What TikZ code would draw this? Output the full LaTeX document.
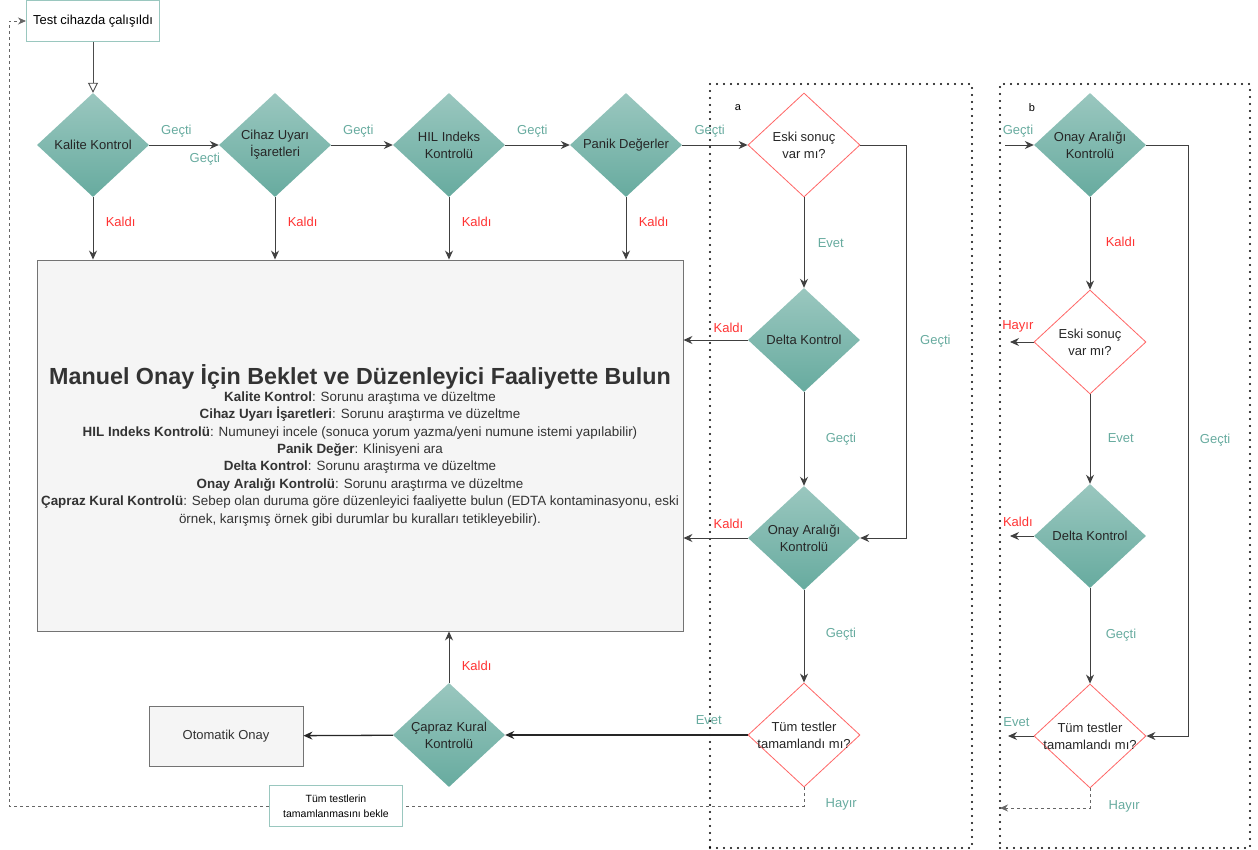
\documentclass[tikz,border=0pt]{standalone}
\usepackage{fontspec}
\setmainfont{Liberation Sans}
\usetikzlibrary{arrows.meta,shapes.geometric}
\definecolor{passgreen}{HTML}{67AB9F}
\definecolor{passlight}{HTML}{9AC7BF}
\definecolor{failred}{HTML}{FF3333}
\definecolor{askred}{HTML}{FF6666}
\definecolor{boxgray}{HTML}{F5F5F5}
\definecolor{txtgray}{HTML}{333333}
\begin{document}
\begin{tikzpicture}[x=1pt,y=-1pt]
		\tikzstyle{check}=[diamond,inner sep=0pt,minimum width=112pt,minimum height=104pt,top color=passlight,bottom color=passgreen,draw=none]
		\tikzstyle{ask}=[diamond,inner sep=0pt,minimum width=112pt,minimum height=104pt,draw=askred,line width=0.8pt,fill=white]
		\tikzstyle{inside}=[align=center,font=\fontsize{13}{17}\selectfont,text=black!85]
		\tikzstyle{edge}=[draw,line width=0.9pt,black!75,-{Stealth[length=9pt,width=8pt]}]
		\tikzstyle{wait}=[draw,line width=0.8pt,black!60,dash pattern=on 3pt off 3pt]
		\tikzstyle{frame}=[draw,line width=2.4pt,dash pattern=on 0pt off 7pt,line cap=round,minimum height=764pt]
		\tikzstyle{pass}=[text=passgreen,font=\fontsize{13}{15}\selectfont]
		\tikzstyle{fail}=[text=failred,font=\fontsize{13}{15}\selectfont]
		\tikzstyle{note}=[draw=passlight,fill=white,line width=1pt,align=center]
		\useasboundingbox (0,0) rectangle (1258,850);
		\begin{scope}
			\node [frame,minimum width=262pt] (fa) at (841,466) {};
			\node [frame,minimum width=250pt] (fb) at (1125,466) {};
			\node [font=\fontsize{11}{13}\selectfont] (na) at (738,108) {a};
			\node [font=\fontsize{11}{13}\selectfont] (nb) at (1032,108) {b};
			\node [note,minimum width=133pt,minimum height=41pt,font=\fontsize{13}{15}\selectfont] (tc) at (93,21) {Test cihazda çalışıldı};
			\node [check,label={[inside]center:Kalite Kontrol}] (kk) at (93,145) {};
			\node [check,label={[inside]center:Cihaz Uyarı\\İşaretleri}] (cu) at (275,145) {};
			\node [check,label={[inside]center:HIL Indeks\\Kontrolü}] (hil) at (449,145) {};
			\node [check,label={[inside]center:Panik Değerler}] (pd) at (626,145) {};
			\node [ask,label={[inside]center:Eski sonuç\\var mı?}] (es-a) at (804,145) {};
			\node [check,label={[inside]center:Delta Kontrol}] (dk-a) at (804,340) {};
			\node [check,label={[inside]center:Onay Aralığı\\Kontrolü}] (oa-a) at (804,538) {};
			\node [ask,label={[inside]center:Tüm testler\\tamamlandı mı?}] (ta-a) at (804,735) {};
			\node [check,label={[inside]center:Çapraz Kural\\Kontrolü}] (ck) at (449,735) {};
			\node [draw=black!55,fill=boxgray,line width=0.9pt,minimum width=154pt,minimum height=60pt,font=\fontsize{13}{15}\selectfont,text=txtgray] (oo) at (226,736) {Otomatik Onay};
			\node [draw=black!55,fill=boxgray,line width=0.9pt,minimum width=646pt,minimum height=371pt,align=center,text=txtgray,font=\fontsize{13.4}{17.4}\selectfont] (mb) at (360,445.5) {{\fontsize{23.3}{26}\selectfont\bfseries Manuel Onay İçin Beklet ve Düzenleyici Faaliyette Bulun}\\[-1pt]
				\textbf{Kalite Kontrol}: Sorunu araştıma ve düzeltme\\
				\textbf{Cihaz Uyarı İşaretleri}: Sorunu araştırma ve düzeltme\\
				\textbf{HIL Indeks Kontrolü}: Numuneyi incele (sonuca yorum yazma/yeni numune istemi yapılabilir)\\
				\textbf{Panik Değer}: Klinisyeni ara\\
				\textbf{Delta Kontrol}: Sorunu araştırma ve düzeltme\\
				\textbf{Onay Aralığı Kontrolü}: Sorunu araştırma ve düzeltme\\
				\textbf{Çapraz Kural Kontrolü}: Sebep olan duruma göre düzenleyici faaliyette bulun (EDTA kontaminasyonu, eski\\
				örnek, karışmış örnek gibi durumlar bu kuralları tetikleyebilir).};
			\node [note,minimum width=133pt,minimum height=41pt,font=\fontsize{10.5}{15}\selectfont] (bk) at (336,806) {Tüm testlerin\\tamamlanmasını bekle};
			\node [check,label={[inside]center:Onay Aralığı\\Kontrolü}] (oa-b) at (1090,145) {};
			\node [ask,label={[inside]center:Eski sonuç\\var mı?}] (es-b) at (1090,342) {};
			\node [check,label={[inside]center:Delta Kontrol}] (dk-b) at (1090,536) {};
			\node [ask,label={[inside]center:Tüm testler\\tamamlandı mı?}] (ta-b) at (1090,736) {};
			\coordinate (lp) at (9,806);
			\coordinate (ib) at (1005,145);
			\coordinate (hb) at (1010,342);
			\coordinate (kb) at (1010,536);
			\coordinate (eb) at (1008,736);
			\coordinate (wb) at (1000,808);
			\path[draw,line width=0.9pt,black!70,-{Triangle[open,length=10pt,width=10pt]}] (tc) -- (kk);
			\path[edge] (kk) -- node[pass,pos=0.39,above=4pt] {Geçti} node[pass,pos=0.8,below=4pt] {Geçti} (cu);
			\path[edge] (cu) -- node[pass,pos=0.44,above=4pt] {Geçti} (hil);
			\path[edge] (hil) -- node[pass,pos=0.42,above=4pt] {Geçti} (pd);
			\path[edge] (pd) -- node[pass,pos=0.42,above=4pt] {Geçti} (es-a);
			\path[edge] (kk) -- node[fail,pos=0.4,right=9pt] {Kaldı} (kk |- mb.north);
			\path[edge] (cu) -- node[fail,pos=0.4,right=9pt] {Kaldı} (cu |- mb.north);
			\path[edge] (hil) -- node[fail,pos=0.4,right=9pt] {Kaldı} (hil |- mb.north);
			\path[edge] (pd) -- node[fail,pos=0.4,right=9pt] {Kaldı} (pd |- mb.north);
			\path[edge] (es-a) -- node[pass,pos=0.5,right=10pt] {Evet} (dk-a);
			\path[edge] (dk-a) -- node[pass,pos=0.5,right=18pt] {Geçti} (oa-a);
			\path[edge] (oa-a) -- node[pass,pos=0.48,right=18pt] {Geçti} (ta-a);
			\path[edge] (es-a.east) -- ++(46,0) |- node[pass,pos=0.25,right=10pt] {Geçti} (oa-a.east);
			\path[edge] (dk-a) -- node[fail,pos=0.3,above=4pt] {Kaldı} (dk-a.west -| mb.east);
			\path[edge] (oa-a) -- node[fail,pos=0.3,above=6pt] {Kaldı} (oa-a.west -| mb.east);
			\path[edge,line width=1.3pt,black!85] (ta-a) -- node[pass,pos=0.16,above=6pt] {Evet} (ck);
			\path[edge] (ck) -- node[fail,pos=0.33,right=9pt] {Kaldı} (ck |- mb.south);
			\path[edge,line width=1.3pt,black!85] (ck) -- (oo);
			\path[wait] (ta-a.south) |- node[pass,pos=0.45,right=18pt] {Hayır} (bk.east);
			\path[wait,-{Stealth[length=8pt,width=7pt]}] (bk.west) -- (lp) |- (tc.west);
			\path[edge] (ib) -- node[pass,pos=0.45,above=4pt] {Geçti} (oa-b);
			\path[edge] (oa-b) -- node[fail,pos=0.48,right=12pt] {Kaldı} (es-b);
			\path[edge] (es-b) -- node[pass,pos=0.49,right=14pt] {Evet} (dk-b);
			\path[edge] (dk-b) -- node[pass,pos=0.49,right=12pt] {Geçti} (ta-b);
			\path[edge] (oa-b.east) -- ++(42,0) |- node[pass,pos=0.25,right=8pt] {Geçti} (ta-b.east);
			\path[edge] (es-b) -- node[fail,pos=0.67,above=6pt] {Hayır} (hb);
			\path[edge] (dk-b) -- node[fail,pos=0.67,above=6pt] {Kaldı} (kb);
			\path[edge] (ta-b) -- node[pass,pos=0.67,above=6pt] {Evet} (eb);
			\path[wait,-{Stealth[length=8pt,width=7pt]}] (ta-b.south) |- node[pass,pos=0.45,right=15pt] {Hayır} (wb);
		\end{scope}
\end{tikzpicture}
\end{document}
